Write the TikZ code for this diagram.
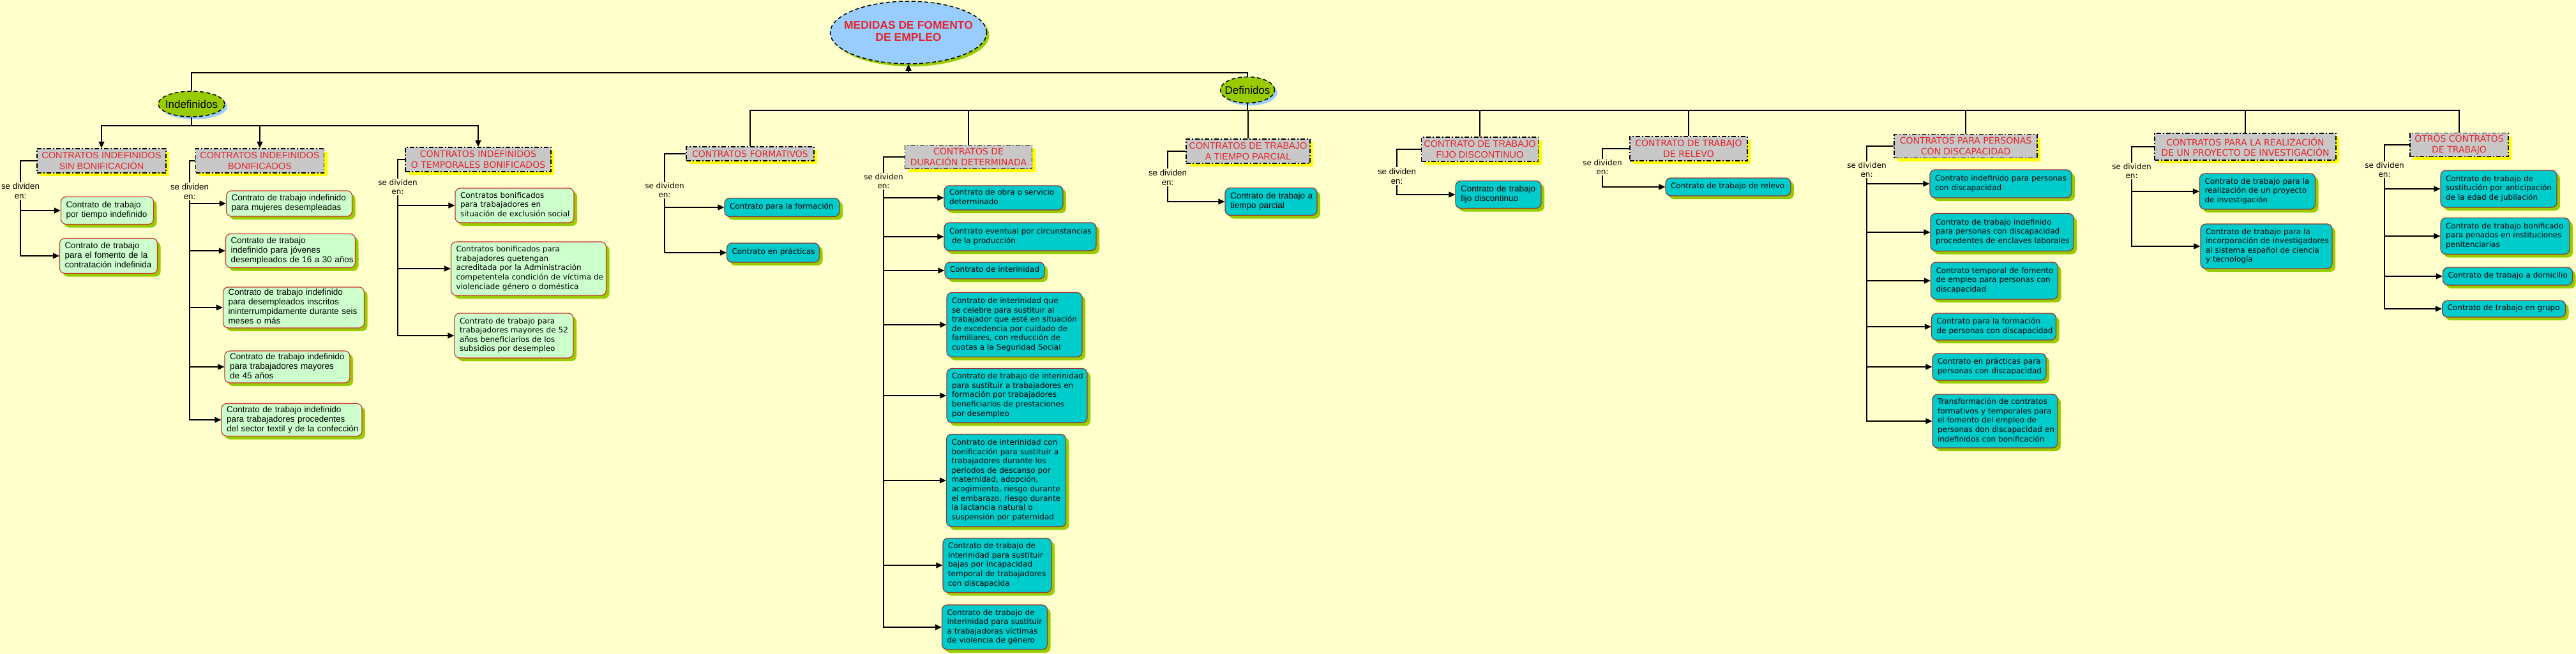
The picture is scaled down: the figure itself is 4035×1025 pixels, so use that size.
\documentclass[tikz,border=0pt]{standalone}
\usepackage{fontspec}
\usetikzlibrary{arrows.meta,shapes.geometric,shadows}
\newfontfamily\ver{DejaVu Sans}
\newfontfamily\tah{Liberation Sans}
\definecolor{bg}{HTML}{FFFFCC}
\definecolor{redtxt}{HTML}{E3262B}
\definecolor{catfill}{HTML}{C8C8C8}
\definecolor{shyel}{HTML}{FFFF00}
\definecolor{lgreen}{HTML}{CCFFCC}
\definecolor{gborder}{HTML}{CC3333}
\definecolor{cyanfill}{HTML}{00CCCC}
\definecolor{cborder}{HTML}{993333}
\definecolor{shgreen}{HTML}{99CC00}
\definecolor{rootfill}{HTML}{99CCFF}
\newcommand\tl[1]{\begin{tabular}{@{}l@{}}#1\end{tabular}}
\newcommand\zc[1]{\makebox[0pt]{\begin{tabular}{@{}c@{}}#1\end{tabular}}}
\tikzset{
 conn/.style={line width=1.3pt, draw=black},
 arr/.style={conn, -{Triangle[length=10pt,width=9pt]}},
 cat/.style={draw=black, fill=catfill, line width=1.8pt, dash pattern=on 7pt off 3pt on 2pt off 3pt, text=redtxt, align=center, inner xsep=3pt, inner ysep=1pt,
   general shadow={fill=shyel, draw=none, shadow xshift=5pt, shadow yshift=-5pt}},
 gbox/.style={draw=gborder, fill=lgreen, line width=1.2pt, rounded corners=8pt, inner xsep=8pt, inner ysep=2pt, align=left,
   general shadow={fill=shgreen, draw=none, shadow xshift=5pt, shadow yshift=-5pt}},
 cbox/.style={draw=cborder, fill=cyanfill, line width=1.2pt, rounded corners=8pt, inner xsep=8pt, inner ysep=2pt, align=left,
   general shadow={fill=shgreen, draw=none, shadow xshift=5pt, shadow yshift=-5pt}},
 sdn/.style={align=center, inner sep=1pt},
 vfont/.style={font=\ver\fontsize{12}{14.6}\selectfont},
 tfont/.style={font=\tah\fontsize{13.5}{15}\selectfont},
 vcat/.style={font=\ver\fontsize{14}{16.7}\selectfont},
 tcat/.style={font=\tah\fontsize{14.5}{17}\selectfont},
 vsd/.style={font=\ver\fontsize{12}{14}\selectfont},
 tsd/.style={font=\tah\fontsize{13.3}{15}\selectfont},
 rootel/.style={ellipse, draw=black, line width=1.5pt, dash pattern=on 6pt off 4pt, fill=rootfill, inner sep=0pt,
   text=redtxt, font=\tah\bfseries\fontsize{17.5}{19.5}\selectfont,
   general shadow={fill=shgreen, draw=none, shadow xshift=4pt, shadow yshift=-4pt}},
 midel/.style={ellipse, draw=black, line width=1.5pt, dash pattern=on 6pt off 4pt, fill=shgreen, inner sep=0pt,
   font=\tah\fontsize{17}{19}\selectfont,
   general shadow={fill=rootfill, draw=none, shadow xshift=4pt, shadow yshift=-4pt}},
}
\begin{document}
\begin{tikzpicture}[x=1pt,y=-1pt]
\fill[bg] (0,0) rectangle (4035,1025);
\useasboundingbox (0,0) rectangle (4035,1025);

% top level
\node[rootel, minimum width=245pt, minimum height=98pt] (root) at (1423,51) {\zc{MEDIDAS DE FOMENTO\\DE EMPLEO}};
\node[midel, minimum width=104pt, minimum height=40pt] (ind) at (300,163) {\makebox[0pt]{Indefinidos}};
\node[midel, minimum width=85pt, minimum height=41pt] (def) at (1954,141) {\makebox[0pt]{Definidos}};

\coordinate (topbus) at (1423,114);
\draw[conn] (ind.north) |- (topbus) -| (def.north);
\draw[arr] (topbus) -- (root.south);

% ---------- Indefinidos ----------
\node[cat, tcat, minimum width=202pt, minimum height=38pt] (ksin) at (159,252) {CONTRATOS INDEFINIDOS\\SIN BONIFICACIÓN};
\node[cat, tcat, minimum width=201pt, minimum height=38pt] (kbon) at (407,252) {CONTRATOS INDEFINIDOS\\BONIFICADOS};
\node[cat, vcat, minimum width=228pt, minimum height=38pt] (ktem) at (749,250) {CONTRATOS INDEFINIDOS\\O TEMPORALES BONIFICADOS};

\coordinate (indbus) at (300,197);
\draw[conn] (ind.south) -- (indbus);
\draw[arr] (indbus) -| (ksin.north);
\draw[arr] (indbus) -| (kbon.north);
\draw[arr] (indbus) -| (ktem.north);

% sin bonificacion
\node[sdn, tsd] (sdsin) at (32,299) {se dividen\\en:};
\node[gbox, tfont, text width=129pt, minimum height=43pt] (c1) at (168,330) {\tl{Contrato de trabajo\\por tiempo indefinido}};
\node[gbox, tfont, text width=137pt, minimum height=55pt] (c2) at (170,401) {\tl{Contrato de trabajo\\para el fomento de la\\contratación indefinida}};
\draw[conn] (ksin.west) -| (sdsin.north);
\draw[arr] (sdsin.south) |- (c1.west);
\draw[arr] (sdsin.south) |- (c2.west);

% bonificados
\node[sdn, tsd] (sdbon) at (297,300) {se dividen\\en:};
\node[gbox, tfont, text width=181pt, minimum height=40pt] (b1) at (453,319) {\tl{Contrato de trabajo indefinido\\para mujeres desempleadas}};
\node[gbox, tfont, text width=187pt, minimum height=53pt] (b2) at (455,393) {\tl{Contrato de trabajo\\indefinido para jóvenes\\desempleados de 16 a 30 años}};
\node[gbox, tfont, text width=205pt, minimum height=64pt] (b3) at (460,482) {\tl{Contrato de trabajo indefinido\\para desempleados inscritos\\ininterrumpidamente durante seis\\meses o más}};
\node[gbox, tfont, text width=180pt, minimum height=50pt] (b4) at (450,575) {\tl{Contrato de trabajo indefinido\\para trabajadores mayores\\de 45 años}};
\node[gbox, tfont, text width=204pt, minimum height=51pt] (b5) at (457,658) {\tl{Contrato de trabajo indefinido\\para trabajadores procedentes\\del sector textil y de la confección}};
\draw[conn] (kbon.west) -| (sdbon.north);
\foreach \c in {b1,b2,b3,b4,b5} \draw[arr] (sdbon.south) |- (\c.west);

% temporales bonificados
\node[sdn, vsd] (sdtem) at (623,293) {se dividen\\en:};
\node[gbox, vfont, text width=170pt, minimum height=54pt] (t1) at (806,322) {\tl{Contratos bonificados\\para trabajadores en\\situación de exclusión social}};
\node[gbox, vfont, text width=227pt, minimum height=84pt] (t2) at (828,421) {\tl{Contratos bonificados para\\trabajadores quetengan\\acreditada por la Administración\\competentela condición de víctima de\\violenciade género o doméstica}};
\node[gbox, vfont, text width=170pt, minimum height=70pt] (t3) at (805,526) {\tl{Contrato de trabajo para\\trabajadores mayores de 52\\años beneficiarios de los\\subsidios por desempleo}};
\draw[conn] (ktem.west) -| (sdtem.north);
\foreach \c in {t1,t2,t3} \draw[arr] (sdtem.south) |- (\c.west);

% ---------- Definidos ----------
\node[cat, vcat, minimum width=200pt, minimum height=22pt] (kfor) at (1175,241) {CONTRATOS FORMATIVOS};
\node[cat, vcat, minimum width=199pt, minimum height=37pt] (kdur) at (1517,246) {CONTRATOS DE\\DURACIÓN DETERMINADA};
\node[cat, tcat, minimum width=194pt, minimum height=38pt] (kpar) at (1955,237) {CONTRATOS DE TRABAJO\\A TIEMPO PARCIAL};
\node[cat, tcat, minimum width=183pt, minimum height=38pt] (kfij) at (2318,234) {CONTRATO DE TRABAJO\\FIJO DISCONTINUO};
\node[cat, vcat, minimum width=184pt, minimum height=38pt] (krel) at (2645,233) {CONTRATO DE TRABAJO\\DE RELEVO};
\node[cat, vcat, minimum width=224pt, minimum height=37pt] (kdis) at (3079,229) {CONTRATOS PARA PERSONAS\\CON DISCAPACIDAD};
\node[cat, vcat, minimum width=284pt, minimum height=42pt] (kinv) at (3517,230) {CONTRATOS PARA LA REALIZACIÓN\\DE UN PROYECTO DE INVESTIGACIÓN};
\node[cat, vcat, minimum width=154pt, minimum height=37pt] (kotr) at (3852,227) {OTROS CONTRATOS\\DE TRABAJO};

\coordinate (defbus) at (1954,173);
\draw[conn] (def.south) -- (defbus);
\foreach \k in {kfor,kdur,kpar,kfij,krel,kdis,kinv,kotr} \draw[conn] (defbus) -| (\k.north);

% formativos
\node[sdn, vsd] (sdfor) at (1041,298) {se dividen\\en:};
\node[cbox, vfont, text width=164pt, minimum height=29pt] (f1) at (1225,325) {\tl{Contrato para la formación}};
\node[cbox, vfont, text width=129pt, minimum height=30pt] (f2) at (1211,396) {\tl{Contrato en prácticas}};
\draw[conn] (kfor.west) -| (sdfor.north);
\foreach \c in {f1,f2} \draw[arr] (sdfor.south) |- (\c.west);

% duracion determinada
\node[sdn, vsd] (sddur) at (1384,284) {se dividen\\en:};
\node[cbox, vfont, text width=170pt, minimum height=38pt] (d1) at (1572,310) {\tl{Contrato de obra o servicio\\determinado}};
\node[cbox, vfont, text width=222pt, minimum height=44pt] (d2) at (1598,371) {\tl{Contrato eventual por circunstancias\\\hspace{4pt}de la producción}};
\node[cbox, vfont, text width=140pt, minimum height=26pt] (d3) at (1558,424) {\tl{Contrato de interinidad}};
\node[cbox, vfont, text width=196pt, minimum height=101pt] (d4) at (1589,509) {\tl{Contrato de interinidad que\\se celebre para sustituir al\\trabajador que esté en situación\\de excedencia por cuidado de\\familiares, con reducción de\\cuotas a la Seguridad Social}};
\node[cbox, vfont, text width=204pt, minimum height=85pt] (d5) at (1593,620) {\tl{Contrato de trabajo de interinidad\\para sustituir a trabajadores en\\formación por trabajadores\\beneficiarios de prestaciones\\por desempleo}};
\node[cbox, vfont, text width=171pt, minimum height=145pt] (d6) at (1576,753) {\tl{Contrato de interinidad con\\bonificación para sustituir a\\trabajadores durante los\\períodos de descanso por\\maternidad, adopción,\\acogimiento, riesgo durante\\el embarazo, riesgo durante\\la lactancia natural o\\suspensión por paternidad}};
\node[cbox, vfont, text width=154pt, minimum height=85pt] (d7) at (1562,886) {\tl{Contrato de trabajo de\\interinidad para sustituir\\bajas por incapacidad\\temporal de trabajadores\\con discapacida}};
\node[cbox, vfont, text width=149pt, minimum height=70pt] (d8) at (1558,983) {\tl{Contrato de trabajo de\\interinidad para sustituir\\a trabajadoras víctimas\\de violencia de género}};
\draw[conn] (kdur.west) -| (sddur.north);
\foreach \c in {d1,d2,d3,d4,d5,d6,d7,d8} \draw[arr] (sddur.south) |- (\c.west);

% tiempo parcial
\node[sdn, tsd] (sdpar) at (1829,278) {se dividen\\en:};
\node[cbox, tfont, text width=128pt, minimum height=43pt] (p1) at (1991,316) {\tl{Contrato de trabajo a\\tiempo parcial}};
\draw[conn] (kpar.west) -| (sdpar.north);
\draw[arr] (sdpar.south) |- (p1.west);

% fijo discontinuo
\node[sdn, tsd] (sdfij) at (2188,276) {se dividen\\en:};
\node[cbox, tfont, text width=118pt, minimum height=43pt] (q1) at (2347,305) {\tl{Contrato de trabajo\\fijo discontinuo}};
\draw[conn] (kfij.west) -| (sdfij.north);
\draw[arr] (sdfij.south) |- (q1.west);

% relevo
\node[sdn, vsd] (sdrel) at (2510,262) {se dividen\\en:};
\node[cbox, vfont, text width=180pt, minimum height=28pt] (r1) at (2707,293) {\tl{Contrato de trabajo de relevo}};
\draw[conn] (krel.west) -| (sdrel.north);
\draw[arr] (sdrel.south) |- (r1.west);

% discapacidad
\node[sdn, vsd] (sddis) at (2924,266) {se dividen\\en:};
\node[cbox, vfont, text width=206pt, minimum height=44pt] (s1) at (3134,288) {\tl{Contrato indefinido para personas\\con discapacidad}};
\node[cbox, vfont, text width=208pt, minimum height=59pt] (s2) at (3136,364) {\tl{Contrato de trabajo indefinido\\para personas con discapacidad\\procedentes de enclaves laborales}};
\node[cbox, vfont, text width=183pt, minimum height=58pt] (s3) at (3124,440) {\tl{Contrato temporal de fomento\\de empleo para personas con\\discapacidad}};
\node[cbox, vfont, text width=179pt, minimum height=42pt] (s4) at (3123,512) {\tl{Contrato para la formación\\de personas con discapacidad}};
\node[cbox, vfont, text width=162pt, minimum height=42pt] (s5) at (3116,575) {\tl{Contrato en prácticas para\\personas con discapacidad}};
\node[cbox, vfont, text width=180pt, minimum height=84pt] (s6) at (3125,660) {\tl{Transformación de contratos\\formativos y temporales para\\el fomento del empleo de\\personas don discapacidad en\\indefinidos con bonificación}};
\draw[conn] (kdis.west) -| (sddis.north);
\foreach \c in {s1,s2,s3,s4,s5,s6} \draw[arr] (sddis.south) |- (\c.west);

% investigacion
\node[sdn, vsd] (sdinv) at (3339,268) {se dividen\\en:};
\node[cbox, vfont, text width=165pt, minimum height=56pt] (i1) at (3536,300) {\tl{Contrato de trabajo para la\\realización de un proyecto\\de investigación}};
\node[cbox, vfont, text width=190pt, minimum height=70pt] (i2) at (3550,386) {\tl{Contrato de trabajo para la\\incorporación de investigadores\\al sistema español de ciencia\\y tecnología}};
\draw[conn] (kinv.west) -| (sdinv.north);
\foreach \c in {i1,i2} \draw[arr] (sdinv.south) |- (\c.west);

% otros
\node[sdn, vsd] (sdotr) at (3735,266) {se dividen\\en:};
\node[cbox, vfont, text width=166pt, minimum height=58pt] (o1) at (3914,296) {\tl{Contrato de trabajo de\\sustitución por anticipación\\de la edad de jubilación}};
\node[cbox, vfont, text width=186pt, minimum height=57pt] (o2) at (3924,370) {\tl{Contrato de trabajo bonificado\\para penados en instituciones\\penitenciarias}};
\node[cbox, vfont, text width=187pt, minimum height=28pt] (o3) at (3928,433) {\tl{Contrato de trabajo a domicilio}};
\node[cbox, vfont, text width=177pt, minimum height=26pt] (o4) at (3922,484) {\tl{Contrato de trabajo en grupo}};
\draw[conn] (kotr.west) -| (sdotr.north);
\foreach \c in {o1,o2,o3,o4} \draw[arr] (sdotr.south) |- (\c.west);
\end{tikzpicture}
\end{document}
